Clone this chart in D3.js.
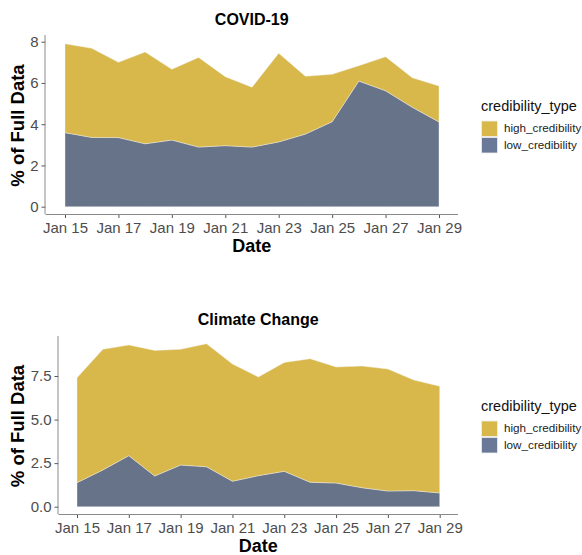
<!DOCTYPE html>
<html><head><meta charset="utf-8">
<script src="https://cdn.jsdelivr.net/npm/d3@7"></script>
<style>
html,body{margin:0;padding:0;background:#fff;}
text{font-family:"Liberation Sans",Arial,Helvetica,sans-serif;}
</style></head>
<body><svg id="c" width="582" height="555"></svg>
<script>
const dates = ["2020-01-15","2020-01-16","2020-01-17","2020-01-18","2020-01-19","2020-01-20","2020-01-21","2020-01-22","2020-01-23","2020-01-24","2020-01-25","2020-01-26","2020-01-27","2020-01-28","2020-01-29"];
const seriesKeys = ["high_credibility","low_credibility"];
const covidLow  = [3.59,3.36,3.35,3.05,3.23,2.89,2.96,2.89,3.14,3.52,4.12,6.09,5.62,4.82,4.11];
const covidHigh = [4.31,4.32,3.65,4.45,3.43,4.35,3.34,2.90,4.30,2.80,2.30,0.75,1.65,1.43,1.74];
const climateLow  = [1.38,2.11,2.93,1.76,2.39,2.29,1.46,1.78,2.03,1.40,1.36,1.09,0.90,0.92,0.79];
const climateHigh = [6.02,6.92,6.35,7.21,6.64,7.06,6.73,5.66,6.25,7.09,6.66,6.98,7.00,6.35,6.12];
const covidTicks = [0,2,4,6,8];
const climateTicks = [0,2.5,5,7.5];
const colors = {high_credibility:"#D9B84B", low_credibility:"#667389"};
const legendColors = {high_credibility:"#D9B84B", low_credibility:"#6B7999"};

const svg = d3.select("#c");
const parse = d3.utcParse("%Y-%m-%d");

function panel(o){
  const rows = dates.map((d,i)=>({date:parse(d), high_credibility:o.high[i], low_credibility:o.low[i]}));
  const x = d3.scaleUtc().domain([parse(dates[0]), parse(dates[dates.length-1])]).range([o.x0, o.x1]);
  const y = d3.scaleLinear().domain([0, o.refVal]).range([o.y0, o.yRef]);
  const stack = d3.stack().keys(["low_credibility","high_credibility"]);
  const layers = stack(rows);
  const area = d3.area().x(d=>x(d.data.date)).y0(d=>y(d[0])).y1(d=>y(d[1]));
  const g = svg.append("g");
  g.selectAll("path.layer").data(layers).join("path")
    .attr("d", area).attr("fill", d=>colors[d.key])
    .attr("stroke","#f2f2f2").attr("stroke-width",0.4);
  // x axis
  const xa = g.append("g").attr("transform",`translate(0,${o.axisY})`)
    .call(d3.axisBottom(x).ticks(d3.utcDay.every(2)).tickFormat(d3.utcFormat("%b %d")).tickSize(4).tickSizeOuter(0));
  xa.select(".domain").remove();
  xa.append("line").attr("x1",o.axisX).attr("x2",o.xEnd).attr("y1",0.5).attr("y2",0.5).attr("stroke","#8a8a8a");
  xa.selectAll(".tick line").attr("stroke","#555");
  xa.selectAll(".tick text").attr("fill","#4d4d4d").attr("font-size","15px").attr("dy",null).attr("y",19);
  // y axis
  const ya = g.append("g").attr("transform",`translate(${o.axisX},0)`)
    .call(d3.axisLeft(y).tickValues(o.ticks).tickFormat(o.fmt).tickSize(4).tickSizeOuter(0));
  ya.select(".domain").remove();
  ya.append("line").attr("x1",-0.5).attr("x2",-0.5).attr("y1",o.yTop).attr("y2",o.axisY).attr("stroke","#8a8a8a");
  ya.selectAll(".tick line").attr("stroke","#555");
  ya.selectAll(".tick text").attr("fill","#4d4d4d").attr("font-size","15px").attr("x",-7);
  // titles
  const cx = (o.axisX + o.xEnd)/2;
  g.append("text").attr("x",cx).attr("y",o.titleY).attr("text-anchor","middle")
    .attr("font-size","16px").attr("font-weight","bold").text(o.title);
  g.append("text").attr("x",cx).attr("y",o.axisY+38).attr("text-anchor","middle")
    .attr("font-size","18px").attr("font-weight","bold").text("Date");
  const cy = (o.yTop + o.axisY)/2;
  g.append("text").attr("transform",`translate(24,${cy+1}) rotate(-90)`).attr("text-anchor","middle")
    .attr("font-size","18.5px").attr("font-weight","bold").text("% of Full Data");
  // legend
  const lg = g.append("g").attr("transform",`translate(481,${o.legY})`);
  lg.append("text").attr("x",0).attr("y",0).attr("font-size","14.5px").attr("fill","#111").text("credibility_type");
  seriesKeys.forEach((k,i)=>{
    lg.append("rect").attr("x",0.5).attr("y",10+i*16.5).attr("width",16).attr("height",15.5)
      .attr("fill",legendColors[k]).attr("stroke","#eeeeee").attr("stroke-width",0.8);
    lg.append("text").attr("x",23).attr("y",21+i*16.5).attr("font-size","11.7px").attr("fill","#222").text(k);
  });
}

panel({title:"COVID-19", high:covidHigh, low:covidLow, x0:65, x1:439, y0:206.7, refVal:8, yRef:41.7,
  axisX:45.5, xEnd:458, axisY:214, yTop:35, ticks:covidTicks, fmt:d3.format("d"), titleY:25, legY:111});
panel({title:"Climate Change", high:climateHigh, low:climateLow, x0:77, x1:439.7, y0:506.7, refVal:7.5, yRef:376,
  axisX:58.5, xEnd:458, axisY:514, yTop:336, ticks:climateTicks, fmt:d3.format(".1f"), titleY:325, legY:411});
</script></body></html>
